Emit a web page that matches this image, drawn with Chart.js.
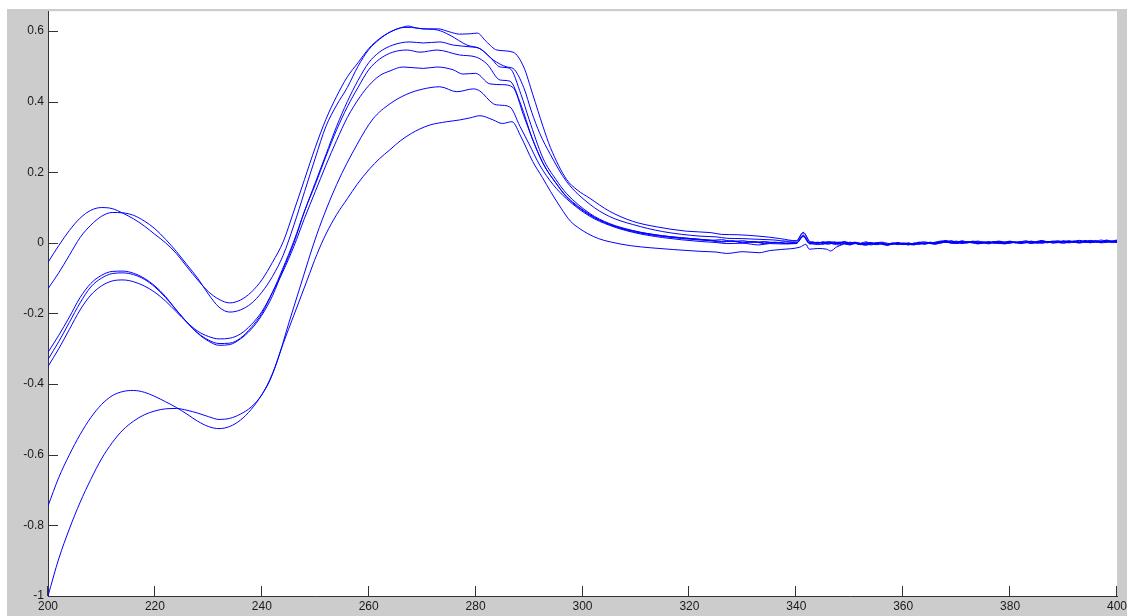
<!DOCTYPE html>
<html>
<head>
<meta charset="utf-8">
<title>Spectra</title>
<script src="https://cdn.jsdelivr.net/npm/chart.js@4.4.0/dist/chart.umd.min.js"></script>
<style>
    html, body { margin: 0; padding: 0; background: #ffffff; }
    #wrap { position: relative; width: 1127px; height: 616px; }
</style>
</head>
<body>
<div id="wrap"><canvas id="chart" width="1127" height="616"></canvas></div>
<script>
// tick labels
const xTicks = [200, 220, 240, 260, 280, 300, 320, 340, 360, 380, 400];
const yTicks = [-1, -0.8, -0.6, -0.4, -0.2, 0, 0.2, 0.4, 0.6];

// series: [wavelength, value]
const curve1 = [
    [200,-0.055],[202,-0.008],[204,0.035],[206,0.07],[208,0.092],[210,0.1],[212,0.097],[214,0.084],
    [216,0.068],[218,0.048],[220,0.024],[222,0.0],[224,-0.03],[226,-0.068],[228,-0.105],[230,-0.138],
    [232,-0.16],[234,-0.17],[236,-0.162],[238,-0.14],[240,-0.105],[242,-0.055],[244,0.003],[246,0.09],
    [248,0.18],[250,0.27],[252,0.35],[254,0.415],[256,0.47],[258,0.51],[260,0.55],[262,0.578],
    [264,0.597],[266,0.609],[267.4,0.614],[269,0.608],[271,0.606],[273,0.606],[275,0.598],[277,0.591],
    [279,0.592],[280.3,0.594],[282,0.57],[284,0.546],[287,0.54],[289,0.498],[290.7,0.42],[292.6,0.33],
    [294,0.27],[297,0.18],[299,0.15],[301.4,0.126],[305,0.09],[309.4,0.061],[314,0.045],[319.5,0.033],
    [324,0.029],[326,0.024],[329,0.023],[333,0.019],[335,0.016],[337,0.012],[340,0.006],[341.3,0.03],[342.5,0.004],
    [343,0.002],[344,-0.001],[345,0.003],[346,0.0],[347,-0.003],[348,0.001],[349,-0.002],[350,0.002],
    [351,-0.001],[352,-0.004],[353,0.0],[354,-0.003],[355,0.001],[356,-0.002],[357,-0.005],[358,-0.001],
    [359,-0.004],[360,0.0],[361,-0.003],[362,-0.001],[363,0.002],[364,-0.002],[365,0.001],[366,-0.001],
    [367,0.004],[368,0.007],[369,0.003],[370,0.005],[371,0.001],[372,0.004],[373,0.002],[374,-0.001],
    [375,0.003],[376,0.001],[377,0.004],[378,0.0],[379,0.002],[380,0.005],[381,0.001],[382,0.003],
    [383,0.0],[384,0.004],[385,0.002],[386,0.005],[387,0.001],[388,0.004],[389,0.006],[390,0.003],
    [391,0.005],[392,0.002],[393,0.006],[394,0.003],[395,0.007],[396,0.004],[397,0.002],[398,0.008],
    [399,0.005],[400,0.003]
];
const curve2 = [
    [200,-0.13],[202,-0.085],[204,-0.035],[206,0.015],[208,0.05],[210,0.075],[212,0.086],[214,0.085],
    [216,0.078],[218,0.062],[220,0.04],[222,0.01],[224,-0.024],[226,-0.062],[228,-0.1],[230,-0.145],
    [232,-0.182],[234,-0.196],[236,-0.19],[238,-0.172],[240,-0.14],[242,-0.095],[244,-0.035],[246,0.05],
    [248,0.145],[250,0.24],[252,0.33],[254,0.39],[256,0.44],[258,0.5],[260,0.547],[262,0.576],
    [264,0.597],[266.6,0.61],[268,0.61],[270,0.606],[272.8,0.603],[275.2,0.588],[278.4,0.56],[280.8,0.55],
    [283.3,0.518],[285.9,0.498],[287,0.494],[289,0.44],[290.5,0.37],[292,0.31],[294,0.25],[297,0.174],
    [301.4,0.109],[305,0.075],[309.4,0.052],[315,0.032],[322,0.019],[325,0.017],[327,0.013],[330,0.012],
    [333,0.01],[336,0.008],[338,0.005],[340,0.005],[341.3,0.028],[342.5,0.003],
    [343,-0.001],[344,0.002],[345,0.0],[346,0.004],[347,0.001],[348,-0.002],[349,0.002],[350,-0.001],
    [351,0.001],[352,-0.003],[353,-0.001],[354,0.001],[355,-0.003],[356,-0.001],[357,-0.004],[358,0.0],
    [359,-0.002],[360,-0.005],[361,-0.001],[362,-0.003],[363,0.0],[364,-0.002],[365,0.002],[366,0.0],
    [367,0.003],[368,0.001],[369,0.005],[370,0.002],[371,0.006],[372,0.002],[373,0.0],[374,0.003],
    [375,0.001],[376,-0.001],[377,0.002],[378,0.004],[379,0.001],[380,0.003],[381,0.0],[382,0.004],
    [383,0.002],[384,-0.001],[385,0.003],[386,0.005],[387,0.002],[388,0.004],[389,0.001],[390,0.003],
    [391,0.006],[392,0.003],[393,0.001],[394,0.005],[395,0.002],[396,0.006],[397,0.004],[398,0.001],
    [399,0.005],[400,0.008]
];
const curve3 = [
    [200,-0.31],[202,-0.262],[204,-0.21],[206,-0.155],[208,-0.115],[210,-0.092],[212,-0.081],[214,-0.08],
    [216,-0.086],[218,-0.1],[220,-0.122],[222,-0.152],[224,-0.19],[226,-0.225],[228,-0.256],[230,-0.278],
    [232,-0.29],[234,-0.288],[236,-0.272],[238,-0.245],[240,-0.205],[242,-0.15],[244,-0.075],[246,0.0],
    [248,0.09],[250,0.17],[252,0.25],[254,0.33],[256,0.4],[258,0.46],[260,0.51],[262,0.54],
    [264.5,0.56],[267.7,0.569],[270.2,0.566],[273.3,0.569],[275.8,0.56],[279,0.555],[280.8,0.55],[282.7,0.526],
    [284.6,0.498],[286.4,0.494],[288.5,0.42],[290,0.35],[292.6,0.24],[295,0.18],[297,0.14],[301.4,0.083],
    [305,0.055],[309.4,0.035],[315,0.02],[322,0.01],[324,0.007],[326,0.009],[328,0.004],[330,0.006],
    [332,0.001],[334,0.004],[336,0.0],[338,0.003],[340,0.0],[341.3,0.022],[342.5,0.0],
    [343,0.001],[344,-0.002],[345,-0.004],[346,0.0],[347,-0.002],[348,0.002],[349,-0.001],[350,-0.003],
    [351,0.0],[352,-0.002],[353,-0.005],[354,-0.001],[355,-0.003],[356,0.0],[357,-0.004],[358,-0.002],
    [359,0.0],[360,-0.003],[361,-0.005],[362,-0.001],[363,-0.003],[364,0.0],[365,-0.002],[366,0.001],
    [367,-0.001],[368,0.003],[369,0.0],[370,0.002],[371,0.004],[372,0.001],[373,0.005],[374,0.002],
    [375,-0.001],[376,0.003],[377,0.0],[378,0.002],[379,-0.001],[380,0.001],[381,0.003],[382,0.0],
    [383,0.002],[384,0.005],[385,0.001],[386,0.003],[387,0.0],[388,0.004],[389,0.002],[390,0.005],
    [391,0.001],[392,0.004],[393,0.002],[394,0.007],[395,0.003],[396,0.001],[397,0.004],[398,0.006],
    [399,0.002],[400,0.005]
];
const curve4 = [
    [200,-0.33],[202,-0.28],[204,-0.225],[206,-0.17],[208,-0.125],[210,-0.1],[212,-0.087],[214,-0.085],
    [216,-0.09],[218,-0.103],[220,-0.125],[222,-0.155],[224,-0.19],[226,-0.225],[228,-0.255],[230,-0.275],
    [232,-0.285],[234,-0.284],[236,-0.27],[238,-0.24],[240,-0.2],[242,-0.14],[244,-0.07],[246,0.005],
    [248,0.09],[250,0.165],[252,0.245],[254,0.32],[256,0.385],[258,0.44],[260,0.49],[262,0.52],
    [264.5,0.54],[267.2,0.546],[269.6,0.54],[272.8,0.546],[277,0.532],[280.1,0.526],[282.1,0.507],[284.6,0.461],
    [286.4,0.458],[288.5,0.39],[290.5,0.3],[292.6,0.225],[295,0.17],[297,0.13],[301.4,0.078],[305,0.052],
    [309.4,0.032],[315,0.018],[322,0.008],[324,0.006],[326,0.002],[328,0.005],[330,0.0],[332,0.003],
    [334,-0.002],[336,0.001],[338,-0.002],[340,-0.001],[341.3,0.02],[342.5,-0.002],
    [343,-0.002],[344,0.001],[345,-0.001],[346,-0.004],[347,0.0],[348,-0.002],[349,0.002],[350,-0.003],
    [351,-0.001],[352,-0.005],[353,-0.002],[354,0.0],[355,-0.004],[356,-0.002],[357,-0.006],[358,-0.003],
    [359,-0.001],[360,-0.004],[361,-0.002],[362,-0.005],[363,-0.001],[364,-0.003],[365,0.0],[366,-0.002],
    [367,0.002],[368,0.004],[369,0.001],[370,-0.001],[371,0.002],[372,0.0],[373,0.003],[374,-0.001],
    [375,0.001],[376,0.003],[377,0.0],[378,-0.002],[379,0.001],[380,-0.001],[381,0.002],[382,0.0],
    [383,0.003],[384,0.001],[385,-0.001],[386,0.002],[387,0.004],[388,0.001],[389,0.003],[390,0.0],
    [391,0.004],[392,0.002],[393,0.005],[394,0.001],[395,0.003],[396,0.006],[397,0.002],[398,0.004],
    [399,0.001],[400,0.004]
];
const curve5 = [
    [200,-0.35],[202,-0.3],[204,-0.245],[206,-0.19],[208,-0.148],[210,-0.122],[212,-0.108],[214,-0.105],
    [216,-0.11],[218,-0.122],[220,-0.14],[222,-0.165],[224,-0.195],[226,-0.225],[228,-0.25],[230,-0.265],
    [232,-0.272],[234,-0.27],[236,-0.258],[238,-0.232],[240,-0.195],[242,-0.14],[244,-0.08],[246,-0.01],
    [248,0.07],[250,0.145],[252,0.22],[254,0.29],[256,0.355],[258.4,0.414],[260,0.445],[262,0.473],
    [264,0.487],[266.4,0.498],[270.2,0.494],[272.8,0.498],[275.8,0.49],[277.6,0.478],[280,0.48],[282.7,0.45],
    [285,0.448],[287,0.44],[289,0.36],[291,0.28],[293,0.215],[295,0.17],[297,0.132],[301.4,0.08],
    [305,0.053],[309.4,0.034],[315,0.02],[322,0.01],[324,0.008],[326,0.004],[328,0.006],[330,0.002],
    [332,0.004],[334,0.0],[336,0.002],[338,-0.001],[340,0.0],[341.3,0.018],[342.5,0.0],
    [343,0.003],[344,0.0],[345,0.002],[346,-0.001],[347,0.003],[348,0.001],[349,0.004],[350,0.0],
    [351,0.002],[352,-0.001],[353,0.003],[354,-0.002],[355,0.0],[356,0.002],[357,-0.001],[358,-0.003],
    [359,0.001],[360,-0.002],[361,0.0],[362,-0.004],[363,0.001],[364,0.003],[365,0.0],[366,0.002],
    [367,0.005],[368,0.003],[369,0.006],[370,0.002],[371,0.004],[372,0.001],[373,0.003],[374,0.005],
    [375,0.002],[376,0.0],[377,0.003],[378,0.005],[379,0.002],[380,0.004],[381,0.001],[382,0.003],
    [383,0.006],[384,0.002],[385,0.004],[386,0.007],[387,0.003],[388,0.005],[389,0.002],[390,0.006],
    [391,0.003],[392,0.005],[393,0.007],[394,0.004],[395,0.006],[396,0.003],[397,0.008],[398,0.005],
    [399,0.003],[400,0.007]
];
const curve6 = [
    [200,-0.745],[202,-0.665],[204,-0.6],[206,-0.543],[208,-0.495],[210,-0.458],[212,-0.433],[214,-0.421],
    [216,-0.418],[218,-0.423],[220,-0.435],[222,-0.45],[224,-0.466],[226,-0.485],[228,-0.505],[230,-0.52],
    [232,-0.526],[234,-0.52],[236,-0.502],[238,-0.472],[240,-0.43],[241.5,-0.39],[243,-0.33],[245,-0.23],
    [247.1,-0.128],[250.3,0.024],[254,0.165],[257.8,0.278],[260.8,0.351],[264,0.394],[267,0.42],
    [270,0.435],[273.3,0.442],[276.5,0.428],[279.6,0.436],[280.8,0.43],[283.3,0.394],[284.5,0.39],[286.4,0.385],
    [288.3,0.33],[290,0.28],[292,0.22],[294.5,0.165],[297,0.125],[301.4,0.075],[305,0.05],[309.4,0.03],
    [315,0.015],[322,0.004],[325,0.001],[327,-0.002],[330,-0.001],[333,-0.006],[335,-0.002],[337,-0.003],
    [340,-0.002],[341.3,0.018],[342.5,-0.003],
    [343,-0.003],[344,-0.005],[345,-0.002],[346,0.0],[347,-0.003],[348,-0.006],[349,-0.002],[350,-0.004],
    [351,-0.001],[352,-0.005],[353,-0.003],[354,-0.006],[355,-0.002],[356,-0.004],[357,-0.007],[358,-0.003],
    [359,-0.005],[360,-0.002],[361,-0.004],[362,-0.006],[363,-0.002],[364,-0.004],[365,-0.001],[366,-0.003],
    [367,0.0],[368,0.002],[369,-0.001],[370,0.001],[371,-0.002],[372,0.0],[373,0.002],[374,-0.002],
    [375,0.0],[376,-0.003],[377,0.001],[378,-0.001],[379,-0.003],[380,0.0],[381,0.002],[382,-0.001],
    [383,0.001],[384,-0.002],[385,0.002],[386,0.0],[387,0.003],[388,-0.001],[389,0.001],[390,0.003],
    [391,0.0],[392,0.002],[393,-0.001],[394,0.003],[395,0.001],[396,0.004],[397,0.0],[398,0.002],
    [399,0.005],[400,0.001]
];
const curve7 = [
    [200,-1.0],[202,-0.895],[204,-0.81],[206,-0.735],[208,-0.67],[210,-0.612],[212,-0.566],[214,-0.53],
    [216,-0.505],[218,-0.487],[220,-0.476],[222,-0.47],[224,-0.469],[226,-0.474],[228,-0.482],[230,-0.492],
    [232,-0.5],[234,-0.497],[236,-0.485],[238,-0.465],[240,-0.43],[242,-0.37],[244,-0.285],[246,-0.205],
    [248.5,-0.105],[250.3,-0.033],[252,0.025],[254,0.08],[256,0.125],
    [257.8,0.165],[260.2,0.21],[262,0.238],[264,0.264],[266,0.29],[268,0.31],[269.5,0.322],[271.5,0.334],
    [274.6,0.343],[277,0.348],[279,0.354],[280.8,0.36],[283.3,0.348],[285,0.338],[286.8,0.343],[288.5,0.3],
    [290.7,0.23],[292.5,0.185],[294,0.146],[296,0.098],[297.7,0.062],[299.5,0.04],[301,0.026],[303,0.012],
    [305.4,0.002],[309,-0.008],[312.8,-0.014],[317,-0.019],[322,-0.024],[325,-0.026],[327,-0.03],[330,-0.025],
    [333,-0.028],[335,-0.022],[337,-0.019],[340.7,-0.012],[341.8,-0.004],[342.4,-0.018],[344,-0.016],[345.7,-0.018],
    [346.4,-0.023],[347.5,-0.012],[348.8,-0.004],
    [349,-0.003],[350,-0.006],[351,-0.002],[352,-0.004],[353,-0.007],[354,-0.003],[355,-0.005],[356,-0.002],
    [357,-0.006],[358,-0.004],[359,-0.001],[360,-0.003],[361,-0.006],[362,-0.002],[363,-0.004],[364,0.0],
    [365,-0.002],[366,-0.004],[367,0.001],[368,0.003],[369,0.0],[370,-0.002],[371,0.001],[372,0.003],
    [373,0.0],[374,-0.003],[375,0.0],[376,0.002],[377,-0.001],[378,0.001],[379,-0.002],[380,0.002],
    [381,0.0],[382,-0.002],[383,0.001],[384,0.003],[385,0.0],[386,-0.001],[387,0.002],[388,0.004],
    [389,0.001],[390,-0.001],[391,0.002],[392,0.005],[393,0.001],[394,0.003],[395,0.0],[396,0.004],
    [397,0.002],[398,0.006],[399,0.003],[400,0.001]
];

const curves = [curve1, curve2, curve3, curve4, curve5, curve6, curve7];

// gray figure background with a white axes box, like the original plot window
const figureBackground = {
    id: 'figureBackground',
    beforeDraw(chart) {
        const { ctx, chartArea: a } = chart;
        ctx.save();
        ctx.fillStyle = '#cccccc';
        ctx.fillRect(7, 9, chart.width - 7, chart.height - 9);
        ctx.fillStyle = '#ffffff';
        ctx.fillRect(a.left, a.top, a.right - a.left, a.bottom - a.top);
        ctx.restore();
    }
};

// tick marks pointing into the plot
const innerTicks = {
    id: 'innerTicks',
    afterDatasetsDraw(chart) {
        const { ctx, chartArea: a, scales: { x, y } } = chart;
        ctx.save();
        ctx.strokeStyle = '#333333';
        ctx.lineWidth = 1;
        ctx.beginPath();
        xTicks.forEach(v => {
            const px = Math.round(x.getPixelForValue(v)) - 0.5;
            ctx.moveTo(px, a.bottom);
            ctx.lineTo(px, a.bottom - 10);
        });
        yTicks.forEach(v => {
            const py = Math.round(y.getPixelForValue(v)) + 0.5;
            ctx.moveTo(a.left, py);
            ctx.lineTo(a.left + 10, py);
        });
        ctx.stroke();
        ctx.restore();
    }
};

const tickFont = { family: "'Liberation Sans', Arial, sans-serif", size: 12 };

new Chart(document.getElementById('chart').getContext('2d'), {
    type: 'scatter',
    data: {
        datasets: curves.map((c, i) => ({
            label: 'curve ' + (i + 1),
            data: c.map(p => ({ x: p[0], y: p[1] })),
            showLine: true,
            borderColor: '#0000ff',
            borderWidth: 1,
            pointRadius: 0,
            cubicInterpolationMode: 'monotone',
            fill: false
        }))
    },
    options: {
        responsive: false,
        animation: false,
        events: [],
        layout: { padding: { left: 0, top: 9, right: 10, bottom: 0 } },
        plugins: {
            legend: { display: false },
            tooltip: { enabled: false }
        },
        scales: {
            x: {
                type: 'linear',
                min: 200,
                max: 400,
                afterBuildTicks: s => { s.ticks = xTicks.map(v => ({ value: v })); },
                afterFit: s => { s.height = 20; s.paddingLeft = 0; s.paddingRight = 0; },
                grid: { display: false, drawTicks: false },
                border: { display: true, color: '#333333', width: 1 },
                ticks: {
                    font: tickFont,
                    color: '#1a1a1a',
                    padding: 3,
                    maxRotation: 0,
                    autoSkip: false,
                    callback: v => String(v)
                }
            },
            y: {
                type: 'linear',
                min: -1,
                max: 0.656,
                afterBuildTicks: s => { s.ticks = yTicks.map(v => ({ value: v })); },
                afterFit: s => { s.width = 48; },
                grid: { display: false, drawTicks: false },
                border: { display: true, color: '#333333', width: 1 },
                ticks: {
                    font: tickFont,
                    color: '#1a1a1a',
                    padding: 4,
                    autoSkip: false,
                    callback: v => String(Math.round(v * 10) / 10)
                }
            }
        }
    },
    plugins: [figureBackground, innerTicks]
});
</script>
</body>
</html>
